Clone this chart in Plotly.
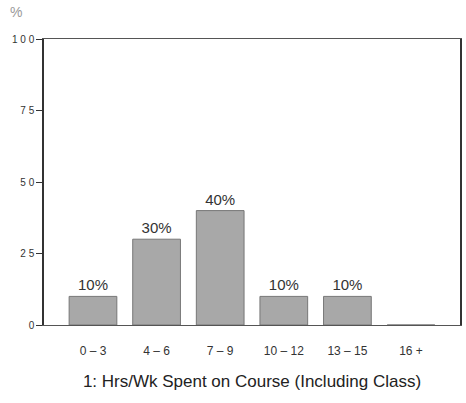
import plotly.graph_objects as go

categories = ["0 – 3", "4 – 6", "7 – 9", "10 – 12", "13 – 15", "16 +"]
values = [10, 30, 40, 10, 10, 0]
bar_labels = ["10%", "30%", "40%", "10%", "10%", ""]
y_tickvals = [0, 25, 50, 75, 100]
y_ticktext = ["0", "2 5", "5 0", "7 5", "1 0 0"]
x_title = "1: Hrs/Wk Spent on Course (Including Class)"

FONT = "Liberation Sans, Arial, sans-serif"

fig = go.Figure()
fig.add_trace(go.Bar(
    x=list(range(len(categories))),
    y=values,
    width=0.75,
    marker=dict(color="#a8a8a8", line=dict(color="#777777", width=1)),
    text=bar_labels,
    textposition="outside",
    textfont=dict(family=FONT, size=15, color="#333333"),
    cliponaxis=False,
))

fig.update_layout(
    width=466, height=403,
    margin=dict(l=44, r=4, t=39, b=78),
    paper_bgcolor="white", plot_bgcolor="white",
    showlegend=False,
    font=dict(family=FONT, color="#222222"),
    xaxis=dict(
        range=[-0.77, 5.77],
        tickvals=list(range(len(categories))),
        ticktext=categories,
        tickfont=dict(size=12, color="#333333"),
        showgrid=False, zeroline=False,
        showline=True, linecolor="#555555", linewidth=1, mirror=True,
        ticks="outside", ticklen=15, tickcolor="rgba(0,0,0,0)",
        title=dict(text=x_title, font=dict(size=17, color="#222222"), standoff=17),
    ),
    yaxis=dict(
        range=[0, 100],
        tickvals=y_tickvals,
        ticktext=y_ticktext,
        tickfont=dict(size=10, color="#333333"),
        showgrid=False, zeroline=False,
        showline=True, linecolor="#333333", linewidth=1.5, mirror=True,
        ticks="outside", ticklen=6, tickcolor="#333333",
    ),
)

fig.add_annotation(
    x=-0.068, y=1.095, xref="paper", yref="paper", xanchor="center", yanchor="middle",
    text="%", showarrow=False, font=dict(size=14, color="#9a9a9a"),
)

fig.write_html("out.html", config={"displayModeBar": False},
               post_script="document.body.style.margin='0px';")
